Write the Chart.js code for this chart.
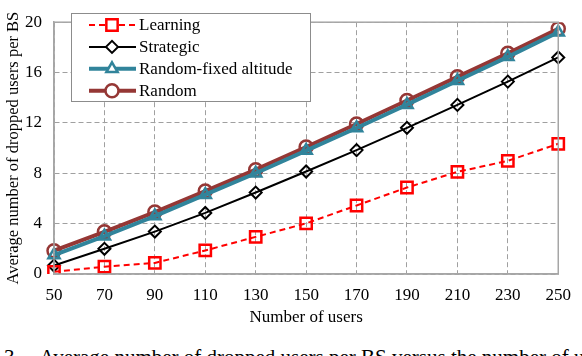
<!DOCTYPE html>
<html>
<head>
<meta charset="utf-8">
<script src="https://cdn.jsdelivr.net/npm/chart.js@4"></script>
<style>
  body { margin: 0; background: #fff; overflow: hidden; }
  #wrap { position: relative; width: 582px; height: 356px; overflow: hidden; }
  #caption { position: absolute; left: 4px; top: 347px; font-family: "Liberation Serif", serif; font-size: 21px; line-height: 21px; white-space: nowrap; color: #000; }
</style>
</head>
<body>
<div id="wrap">
  <canvas id="myChart" width="582" height="340"></canvas>
  <div id="caption">3.&nbsp;&nbsp;&nbsp; Average number of dropped users per BS versus the number of users</div>
</div>
<script>
var users = ['50', '70', '90', '110', '130', '150', '170', '190', '210', '230', '250'];
var learning = [0.17, 0.58, 0.88, 1.87, 2.95, 4.02, 5.44, 6.87, 8.11, 8.99, 10.34];
var strategic = [0.67, 2.0, 3.37, 4.85, 6.47, 8.14, 9.84, 11.61, 13.43, 15.28, 17.2];
var randomFixed = [1.5, 3.0, 4.6, 6.3, 8.0, 9.8, 11.6, 13.45, 15.35, 17.25, 19.2];
var random = [1.85, 3.35, 4.92, 6.59, 8.29, 10.09, 11.91, 13.78, 15.66, 17.53, 19.48];
var yTicks = [0, 4, 8, 12, 16, 20];

var serif = '"Liberation Serif", "Times New Roman", serif';

// box round the plot area
var frame = {
    id: 'frame',
    afterDraw: function (chart) {
        var a = chart.chartArea, c = chart.ctx;
        c.save();
        c.strokeStyle = '#a6a6a6';
        c.lineWidth = 1.5;
        c.strokeRect(a.left, a.top, a.right - a.left, a.bottom - a.top);
        c.restore();
    }
};

// legend with line + marker samples, drawn inside the plot
var boxLegend = {
    id: 'boxLegend',
    afterDraw: function (chart) {
        var c = chart.ctx;
        var x0 = 71, y0 = 13, w = 239, h = 88;
        c.save();
        c.fillStyle = '#fff';
        c.fillRect(x0, y0, w, h);
        c.strokeStyle = '#8c8c8c';
        c.lineWidth = 1;
        c.strokeRect(x0 + 0.5, y0 + 0.5, w, h);
        chart.data.datasets.forEach(function (ds, i) {
            var y = 25 + i * 21.9;
            c.strokeStyle = ds.borderColor;
            c.lineWidth = ds.borderWidth;
            c.setLineDash(ds.borderDash || []);
            c.beginPath();
            c.moveTo(89, y);
            c.lineTo(136, y);
            c.stroke();
            c.setLineDash([]);
            c.strokeStyle = ds.borderColor;
            c.fillStyle = '#fff';
            c.lineWidth = ds.pointBorderWidth;
            Chart.helpers.drawPoint(c, {
                pointStyle: ds.pointStyle,
                radius: ds.pointRadius,
                borderWidth: ds.pointBorderWidth,
                rotation: 0
            }, 112, y);
            c.fillStyle = '#000';
            c.font = '17px ' + serif;
            c.textBaseline = 'middle';
            c.fillText(ds.label, 139, y + 1);
        });
        c.restore();
    }
};

var ctx = document.getElementById('myChart').getContext('2d');
var myChart = new Chart(ctx, {
    type: 'line',
    data: {
        labels: users,
        datasets: [{
            label: 'Learning',
            data: learning,
            borderColor: '#ff0000',
            backgroundColor: 'rgba(255,255,255,0)',
            borderWidth: 2,
            borderDash: [6, 4],
            pointStyle: 'rect',
            pointRadius: 8,
            pointBorderWidth: 2.5
        }, {
            label: 'Strategic',
            data: strategic,
            borderColor: '#000000',
            backgroundColor: 'rgba(255,255,255,0)',
            borderWidth: 2,
            pointStyle: 'rectRot',
            pointRadius: 6,
            pointBorderWidth: 2
        }, {
            label: 'Random-fixed altitude',
            data: randomFixed,
            borderColor: '#31849b',
            backgroundColor: 'rgba(255,255,255,0)',
            borderWidth: 4,
            pointStyle: 'triangle',
            pointRadius: 6.5,
            pointBorderWidth: 2.5
        }, {
            label: 'Random',
            data: random,
            borderColor: '#953735',
            backgroundColor: 'rgba(255,255,255,0)',
            borderWidth: 4,
            pointStyle: 'circle',
            pointRadius: 6.5,
            pointBorderWidth: 2.5
        }]
    },
    options: {
        responsive: false,
        animation: false,
        events: [],
        layout: {
            padding: { top: 7, right: 19, left: 0, bottom: 8 }
        },
        plugins: {
            legend: { display: false },
            tooltip: { enabled: false }
        },
        scales: {
            x: {
                offset: false,
                grid: { color: '#a0a0a0', lineWidth: 1, drawTicks: false },
                border: { color: '#a6a6a6', width: 1.5, dash: [5, 3] },
                ticks: { color: '#000', padding: 11, maxRotation: 0, autoSkip: false, font: { family: serif, size: 17 } },
                title: { display: true, text: 'Number of users', color: '#000', padding: { top: 6 }, font: { family: serif, size: 17 } },
                afterFit: function (s) { s.height = 58; }
            },
            y: {
                min: 0,
                max: 20,
                afterBuildTicks: function (s) { s.ticks = yTicks.map(function (v) { return { value: v }; }); },
                grid: { color: '#a0a0a0', lineWidth: 1, drawTicks: false },
                border: { color: '#a6a6a6', width: 1.5, dash: [5, 3] },
                ticks: { color: '#000', padding: 12, font: { family: serif, size: 17 } },
                title: { display: true, text: 'Average number of dropped users per BS', color: '#000', padding: { bottom: 0 }, font: { family: serif, size: 16.5 } },
                afterFit: function (s) { s.width = 54; }
            }
        }
    },
    plugins: [{
        id: 'bg',
        beforeDraw: function (chart) {
            chart.ctx.save();
            chart.ctx.fillStyle = '#fff';
            chart.ctx.fillRect(0, 0, chart.width, chart.height);
            chart.ctx.restore();
        }
    }, frame, boxLegend]
});
</script>
</body>
</html>
